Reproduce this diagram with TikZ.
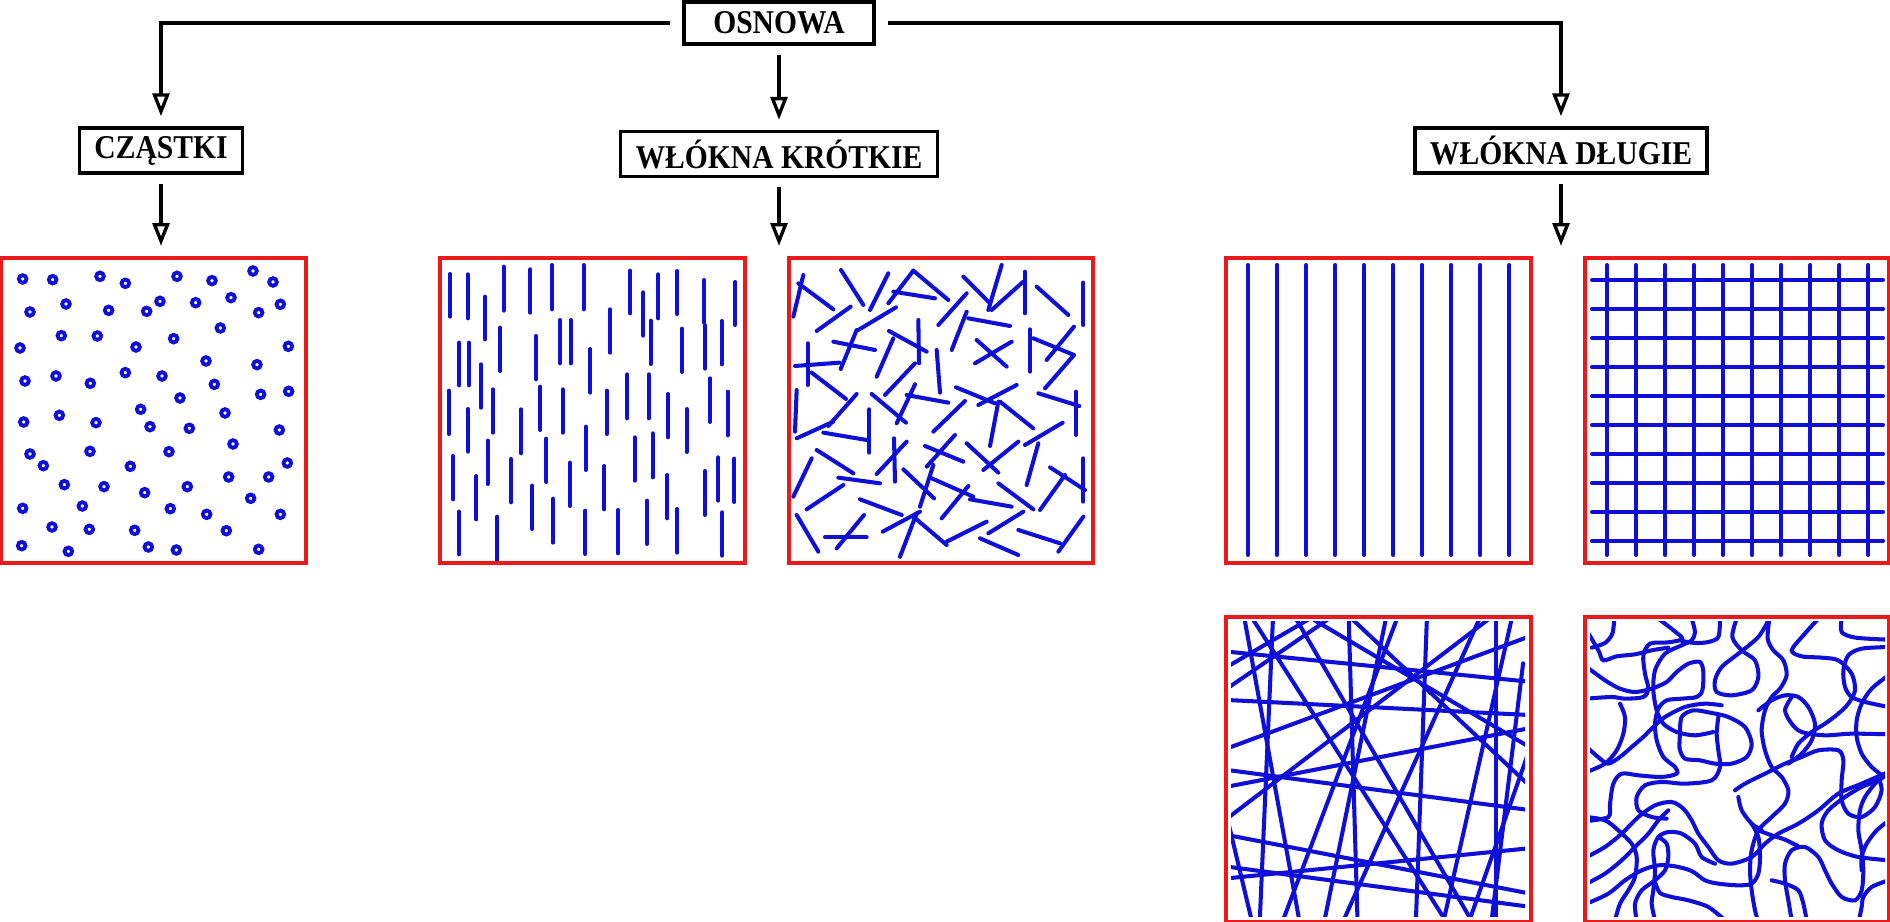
\documentclass[tikz,border=0pt]{standalone}
\usepackage{fontspec}
\usepackage{graphicx}
\setmainfont{Liberation Serif}
\usetikzlibrary{arrows.meta, positioning}
\definecolor{framered}{RGB}{235,25,25}
\definecolor{fibreblue}{RGB}{15,15,215}
\newcommand{\headtext}[1]{\scalebox{0.89}[1]{#1}}
\tikzset{
    heading/.style={rectangle, draw=black, line width=1pt, fill=white, text centered, inner xsep=0.15cm, inner ysep=0pt, minimum height=0.45cm, font=\fontsize{9.45pt}{11pt}\selectfont\bfseries},
    arrow/.style={line width=0.95pt, -{Triangle[open, length=6.5pt, width=4.8pt]}},
    panel/.style={rectangle, draw=framered, line width=1.15pt, minimum width=3.04cm, minimum height=3.05cm, inner sep=0pt},
    fibre/.style={draw=fibreblue, line width=1.15pt, line cap=round},
    particle/.style={draw=fibreblue, line width=1.1pt},
    curl/.style={draw=fibreblue, line width=1.15pt, line cap=round}
}
\begin{document}
\begin{tikzpicture}[x=0.01cm, y=-0.01cm]
    \useasboundingbox (0,0) rectangle (1890,922);
    % Headings
    \node (osnowa) [heading, minimum width=1.9cm, minimum height=0.42cm] at (779,23) {\headtext{OSNOWA}};
    \node (krotkie) [heading, below=0.84cm of osnowa] {\headtext{WŁÓKNA KRÓTKIE}};
    \node (czastki) [heading] at (161,150.5) {\headtext{CZĄSTKI}};
    \node (dlugie) [heading] at (1561,150.5) {\headtext{WŁÓKNA DŁUGIE}};
    % Particles
    \foreach \a/\b in {68/87,158/89,300/79,376/100,531/79,636/92,759/63,819/96,
        90/186,198/162,326/181,440/184,480/154,587/158,693/143,776/188,841/163,
        184/257,292/258,521/266,661/234,60/294,408/291,865/289,618/333,771/344,
        75/393,168/378,271/400,376/368,486/378,643/403,540/444,782/433,866/424,
        71/516,178/496,288/518,422/478,450/530,568/535,675/489,838/540,
        90/612,130/647,270/604,391/649,507/605,699/582,862/639,
        193/704,312/710,434/728,562/710,686/681,806/681,752/745,
        68/775,247/768,511/776,620/793,841/793,156/831,268/838,404/841,679/842,
        65/887,205/904,445/891,529/900,776/898}
        \draw [particle] ({\a/3},{250+\b/3}) circle [radius=3.8];
    % Short aligned fibres
    \foreach \a/\b/\c in {60/72/200,113/73/205,165/140/268,221/50/182,301/58/188,366/45/178,461/45/178,
        600/62/190,640/127/257,685/73/205,742/63/192,822/90/218,915/96/225,
        88/278/406,117/278/406,153/343/473,211/233/363,318/258/388,390/210/340,422/210/340,
        481/297/428,540/178/308,662/212/342,756/236/366,826/226/356,875/213/343,
        57/422/552,113/477/605,189/418/548,273/478/610,331/410/540,398/418/548,530/422/552,
        592/373/505,656/373/505,714/432/562,770/477/606,840/385/516,893/425/556,
        70/618/748,139/678/808,173/572/702,243/627/757,349/566/696,420/638/768,467/530/660,
        523/648/778,614/562/692,668/550/682,712/675/805,825/663/795,865/622/752,913/626/756,
        87/785/913,202/800/932,307/707/837,369/746/878,466/782/912,564/780/910,651/752/882,
        742/777/908,877/787/917}
        \draw [fibre] ({430+\a/3},{250+\b/3}) -- ({430+\a/3},{250+\c/3});
    % Short random fibres
    \foreach \a/\b/\c/\d in {100/75/70/200,85/100/190/178,213/60/280/165,355/70/300/180,
        140/243/242/170,265/240/378/172,430/62/355/160,430/62/535/150,370/125/495/145,
        580/80/660/160,695/45/655/180,665/180/760/95,765/65/765/190,800/110/895/195,
        940/98/940/225,505/225/590/130,590/185/545/300,595/205/720/228,190/275/315/300,
        260/240/212/357,75/348/208/338,113/280/113/405,357/243/470/305,445/210/447/340,
        370/265/320/380,615/340/725/275,620/270/710/350,780/238/780/365,790/265/912/315,
        830/330/912/230,912/315/825/415,125/368/228/447,500/300/510/428,345/435/435/340,
        80/420/75/545,80/565/190/515,175/528/260/432,160/548/290/570,298/478/298/608,
        305/432/408/518,380/520/435/403,410/435/535/458,558/412/675/460,625/465/740/405,
        490/545/585/453,685/455/660/588,690/455/790/535,805/430/928/468,918/425/918/555,
        765/585/878/518,140/600/250/670,125/625/70/740,320/672/410/575,372/565/375/695,
        465/588/580/635,470/650/555/555,590/580/685/668,640/660/745/575,805/580/770/705,
        205/683/330/700,110/778/220/705,400/658/492/745,490/645/450/770,485/685/610/740,
        515/805/595/708,600/748/725/770,685/700/790/778,840/652/945/720,885/675/810/780,
        940/625/940/755,270/748/395/795,80/795/145/905,165/862/290/862,200/895/282/795,
        338/845/450/785,440/790/390/920,430/800/530/885,530/875/650/815,655/850/760/785,
        630/865/745/915,745/840/870/880,940/800/865/905}
        \draw [fibre] ({770+\a/3},{250+\b/3}) -- ({770+\c/3},{250+\d/3});
    % Long parallel fibres
    \foreach \i in {0,...,9}
        \draw [fibre] ({1248+29.05*\i},265) -- ({1248+29.05*\i},555);
    % Woven fibres
    \foreach \i in {0,...,9} {
        \draw [fibre] ({1607+29.05*\i},265) -- ({1607+29.05*\i},555);
        \draw [fibre] (1592,{280+29*\i}) -- (1883,{280+29*\i});
    }
    % Long random fibres
    \begin{scope}
        \clip (1231,622) rectangle (1525,917);
        \foreach \a/\b/\c/\d in {80/60/205/955,145/60/115/955,100/60/540/955,320/60/340/955,
            500/60/475/955,660/60/660/955,40/155/735/245,40/300/735/345,40/510/735/630,
            40/705/735/880,40/800/735/920,40/265/270/60,40/200/225/60,40/445/735/110,
            40/560/735/385,40/835/735/745,430/60/170/955,405/60/265/955,620/60/310/955,
            640/60/40/655,695/60/540/955,330/60/735/555,200/60/600/955,40/655/95/955,
            735/455/600/955,722/190/650/955,240/60/735/440}
            \draw [fibre] ({1210+\a/2.306},{600+\b/3}) -- ({1210+\c/2.306},{600+\d/3});
    \end{scope}
    % Curly fibres
    \begin{scope}[shift={(1585,617)}, scale=1/3]
        \clip (15,15) rectangle (900,900);
        \draw [curl] plot [smooth] coordinates {(20,92) (60,78) (82,50) (88,5)};
        \draw [curl] plot [smooth] coordinates {(220,5) (268,42) (292,66) (250,76) (195,80) (175,115) (180,170) (190,215) (175,240) (120,245) (80,240) (5,245)};
        \draw [curl] plot [smooth] coordinates {(320,5) (330,45) (320,70) (290,85) (240,110) (210,160) (205,220) (215,280) (235,320) (275,345) (330,355) (385,345)};
        \draw [curl] plot [smooth] coordinates {(405,5) (400,60) (370,75) (330,78) (290,72)};
        \draw [curl] plot [smooth] coordinates {(5,150) (60,190) (105,215) (150,225) (200,215) (245,195) (275,165) (310,140) (345,135) (355,165) (352,220) (335,240) (290,245) (245,250) (220,275) (210,320) (215,370) (235,420) (270,450) (275,470) (230,480) (160,475) (110,470) (85,500) (75,560) (70,600) (5,612)};
        \draw [curl] plot [smooth] coordinates {(455,5) (442,60) (470,100) (510,130) (520,180) (500,220) (440,235) (395,225) (390,190) (410,150) (460,110) (520,60) (553,5)};
        \draw [curl] plot [smooth] coordinates {(553,5) (548,65) (565,100) (595,130) (605,175) (585,215) (560,240) (540,280) (530,340) (540,400) (560,450) (590,480) (610,520) (600,560) (560,600) (520,640) (500,700) (495,760) (500,820) (510,880) (520,915)};
        \draw [curl] plot [smooth] coordinates {(700,5) (655,55) (620,100) (650,118) (710,122) (760,130) (800,170) (810,220) (790,260) (760,290) (720,320) (680,345) (640,380) (620,420)};
        \draw [curl] plot [smooth] coordinates {(770,5) (770,45) (812,62) (910,68)};
        \draw [curl] plot [smooth] coordinates {(910,90) (830,95) (790,115) (775,160) (780,210) (800,240) (840,255) (910,270)};
        \draw [curl] plot [smooth] coordinates {(910,175) (860,215) (830,260) (815,310) (815,360) (830,410) (860,450) (895,478)};
        \draw [curl] plot [smooth] coordinates {(5,390) (45,425) (70,440) (105,420) (140,390) (175,360) (205,330) (240,300) (300,270) (360,260) (410,265)};
        \draw [curl] plot [smooth] coordinates {(285,350) (290,300) (325,280) (380,288) (430,300) (480,330) (500,380) (485,420) (440,440) (390,440) (345,430) (300,425) (284,395) (285,350)};
        \draw [curl] plot [smooth] coordinates {(400,300) (395,350) (400,400) (405,450) (380,490) (300,500) (230,495) (180,505) (155,540) (160,580) (200,600) (245,605)};
        \draw [curl] plot [smooth] coordinates {(620,240) (600,280) (620,320) (650,345) (720,355) (800,350) (910,352)};
        \draw [curl] plot [smooth] coordinates {(520,280) (560,250) (600,235) (640,240) (670,270) (690,320) (680,370) (650,410) (610,440)};
        \draw [curl] plot [smooth] coordinates {(910,470) (880,490) (830,510) (780,540) (730,580) (710,620) (720,670) (760,700) (820,720) (910,730)};
        \draw [curl] plot [smooth] coordinates {(450,520) (480,500) (540,470) (600,440) (650,420) (700,400) (760,400) (775,430) (770,490) (770,550) (790,590) (830,600) (870,570) (890,520) (880,480)};
        \draw [curl] plot [smooth] coordinates {(5,600) (60,610) (100,640) (140,680) (155,720) (150,780) (130,820) (105,860) (90,910)};
        \draw [curl] plot [smooth] coordinates {(5,720) (60,690) (110,650) (160,600) (210,565) (260,555) (295,575) (320,610) (340,650) (370,690) (400,730) (440,740) (500,720) (540,680) (580,650) (640,620) (700,580) (760,530) (830,500) (910,465)};
        \draw [curl] plot [smooth] coordinates {(5,800) (60,770) (110,730) (150,690) (190,650) (220,610) (250,580)};
        \draw [curl] plot [smooth] coordinates {(5,860) (70,830) (120,790) (170,760) (220,745) (270,748) (320,762) (360,790) (400,800) (460,805) (500,800) (520,770) (525,720) (520,660) (500,620)};
        \draw [curl] plot [smooth] coordinates {(155,910) (150,860) (170,820) (210,790) (240,760) (250,720) (245,680) (220,660)};
        \draw [curl] plot [smooth] coordinates {(210,910) (200,860) (205,820) (210,760) (205,700) (220,660) (250,645) (290,650) (330,680) (350,720) (390,740)};
        \draw [curl] plot [smooth] coordinates {(420,910) (370,870) (310,850) (260,840) (225,828) (212,800)};
        \draw [curl] plot [smooth] coordinates {(620,910) (610,850) (600,790) (600,740) (620,700) (660,690) (700,720) (720,760) (740,800) (770,840) (810,850) (830,820) (835,760) (830,700) (820,640) (825,580) (840,540) (870,500) (890,480)};
        \draw [curl] plot [smooth] coordinates {(665,910) (655,860) (640,820) (600,800) (560,790)};
        \draw [curl] plot [smooth] coordinates {(910,790) (860,810) (835,840) (830,870) (822,910)};
        \draw [curl] plot [smooth] coordinates {(910,612) (875,640) (845,680) (830,720) (830,760)};
        \draw [curl] plot [smooth] coordinates {(520,640) (560,655) (600,668) (640,688)};
        \draw [curl] plot [smooth] coordinates {(460,540) (470,580) (500,620) (530,640)};
        \draw [curl] plot [smooth] coordinates {(5,465) (60,440) (95,400) (115,350) (120,300) (105,260)};
        \draw [curl] plot [smooth] coordinates {(5,40) (40,100) (55,130) (95,118) (150,112) (200,100) (250,92)};
    \end{scope}
    % Panels
    \node (pa) [panel] at (153.5,410.5) {};
    \node (pb) [panel] at (592.5,410.5) {};
    \node (pc) [panel] at (941,410.5) {};
    \node (pd) [panel] at (1378.5,410.5) {};
    \node (pe) [panel] at (1737,410.5) {};
    \node (pf) [panel] at (1378.5,769.5) {};
    \node (pg) [panel] at (1737,769.5) {};
    % Arrows
    \draw [arrow, shorten <=0.12cm, shorten >=0.1cm] (osnowa.west) -| (czastki.north);
    \draw [arrow, shorten <=0.12cm, shorten >=0.1cm] (osnowa.east) -| (dlugie.north);
    \draw [arrow, shorten <=0.09cm, shorten >=0.1cm] (osnowa) -- (krotkie);
    \draw [arrow, shorten <=0.09cm, shorten >=0.1cm] (czastki) -- (czastki |- pa.north);
    \draw [arrow, shorten <=0.09cm, shorten >=0.1cm] (krotkie) -- (krotkie |- pb.north);
    \draw [arrow, shorten <=0.09cm, shorten >=0.1cm] (dlugie) -- (dlugie |- pd.north);
\end{tikzpicture}
\end{document}
